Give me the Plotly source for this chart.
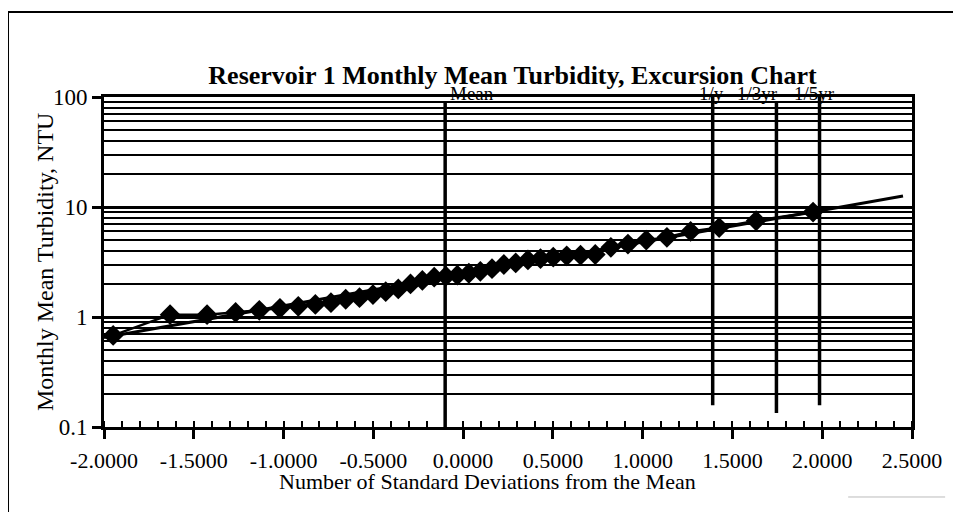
import plotly.graph_objects as go

# ---- data ----
z_scores = [-1.949, -1.632, -1.426, -1.267, -1.135, -1.020, -0.918, -0.823, -0.736, -0.654,
            -0.577, -0.502, -0.431, -0.361, -0.293, -0.227, -0.161, -0.096, -0.032, 0.032,
            0.096, 0.161, 0.227, 0.293, 0.361, 0.431, 0.502, 0.577, 0.654, 0.736,
            0.823, 0.918, 1.020, 1.135, 1.267, 1.426, 1.632, 1.949]
turbidity = [0.68, 1.05, 1.05, 1.1, 1.15, 1.2, 1.25, 1.3, 1.35, 1.45,
             1.5, 1.6, 1.7, 1.8, 2.0, 2.15, 2.3, 2.35, 2.4, 2.5,
             2.6, 2.75, 3.0, 3.1, 3.3, 3.4, 3.5, 3.6, 3.65, 3.7,
             4.3, 4.6, 5.0, 5.3, 6.0, 6.5, 7.5, 9.0]

fit_x = [-2.0, 2.45]
fit_y = [0.65, 12.6]

ref_labels = ["Mean", "1/y", "1/3yr", "1/5yr"]
ref_x = [-0.1, 1.39, 1.745, 1.985]
ref_bottom = [0.1, 0.158, 0.134, 0.158]
ref_top = [88, 100, 90, 100]
label_x = [0.05, 1.385, 1.64, 1.955]

x_tickvals = [-2.0, -1.5, -1.0, -0.5, 0.0, 0.5, 1.0, 1.5, 2.0, 2.5]
x_ticktext = ["-2.0000", "-1.5000", "-1.0000", "-0.5000", "0.0000",
              "0.5000", "1.0000", "1.5000", "2.0000", "2.5000"]
y_tickvals = [0.1, 1, 10, 100]
y_ticktext = ["0.1", "1", "10", "100"]
y_minor = [m * d for d in (0.1, 1, 10) for m in range(2, 10)]

FONT = "Liberation Serif"

fig = go.Figure()

# fitted line
fig.add_trace(go.Scatter(x=fit_x, y=fit_y, mode="lines",
                         line=dict(color="black", width=3), showlegend=False,
                         hoverinfo="skip"))
# data points
fig.add_trace(go.Scatter(x=z_scores, y=turbidity, mode="lines+markers",
                         line=dict(color="black", width=2.5),
                         marker=dict(symbol="diamond", size=16, color="black"),
                         showlegend=False))
# reference vertical lines
for xv, yb, yt in zip(ref_x, ref_bottom, ref_top):
    fig.add_trace(go.Scatter(x=[xv, xv], y=[yb, yt], mode="lines",
                             line=dict(color="black", width=3.5),
                             showlegend=False, hoverinfo="skip"))

annotations = []
for lab, lx in zip(ref_labels, label_x):
    annotations.append(dict(x=lx, y=1.0, xref="x", yref="paper", xanchor="center",
                            yanchor="middle", yshift=4, text=lab, showarrow=False,
                            font=dict(family=FONT, size=19, color="black")))
annotations.append(dict(x=0.475, y=-0.165, xref="paper", yref="paper",
                        xanchor="center", yanchor="middle",
                        text="Number of Standard Deviations from the Mean",
                        showarrow=False, font=dict(family=FONT, size=22, color="black")))
annotations.append(dict(x=-0.073, y=0.5, xref="paper", yref="paper", textangle=-90,
                        xanchor="center", yanchor="middle",
                        text="Monthly Mean Turbidity, NTU", showarrow=False,
                        font=dict(family=FONT, size=24, color="black")))

fig.update_layout(
    width=961, height=512,
    margin=dict(l=96, r=57, t=89, b=93),
    paper_bgcolor="white", plot_bgcolor="white",
    title=dict(text="<b>Reservoir 1 Monthly Mean Turbidity, Excursion Chart</b>",
               x=0.525, xanchor="center", y=0.869, yanchor="middle",
               font=dict(family=FONT, size=26, color="black")),
    annotations=annotations,
    shapes=[
        dict(type="line", xref="paper", yref="paper", x0=-0.1188, x1=-0.1188,
             y0=1.2576, y1=-0.30, line=dict(color="black", width=2)),
        dict(type="line", xref="paper", yref="paper", x0=-0.1188, x1=1.07,
             y0=1.2576, y1=1.2576, line=dict(color="black", width=2)),
        dict(type="line", xref="paper", yref="paper", x0=0.921, x1=1.041,
             y0=-0.2121, y1=-0.2121, line=dict(color="#bbbbbb", width=1)),
    ],
    xaxis=dict(range=[-2.0, 2.5], tickvals=x_tickvals, ticktext=x_ticktext,
               showgrid=False, zeroline=False,
               showline=True, linecolor="black", linewidth=3, mirror=True,
               ticks="outside", ticklen=9, tickwidth=2.5, tickcolor="black",
               ticklabelstandoff=3,
               tickfont=dict(family=FONT, size=22, color="black"),
               minor=dict(dtick=0.1, tick0=0, ticks="inside", ticklen=6,
                          tickwidth=2, tickcolor="black", showgrid=False)),
    yaxis=dict(type="log", range=[-1, 2], tickvals=y_tickvals, ticktext=y_ticktext,
               showgrid=True, gridcolor="black", gridwidth=2.5, zeroline=False,
               showline=True, linecolor="black", linewidth=3, mirror=True,
               ticks="outside", ticklen=9, tickwidth=2.5, tickcolor="black",
               tickfont=dict(family=FONT, size=23, color="black"),
               minor=dict(tickvals=y_minor, ticks="", showgrid=True,
                          gridcolor="black", gridwidth=1.6)),
)

fig.write_html("out.html")
